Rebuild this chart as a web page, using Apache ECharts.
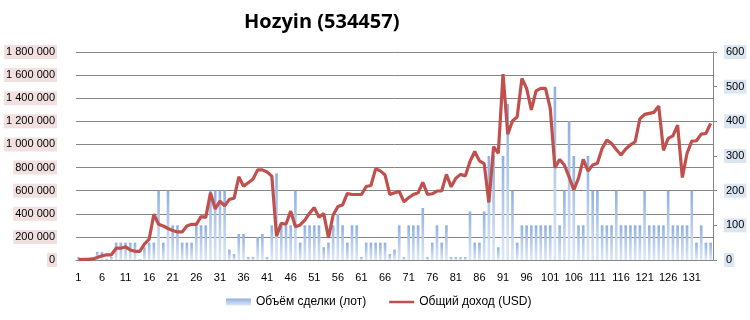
<!DOCTYPE html>
<html>
<head>
<meta charset="utf-8">
<script src="https://cdn.jsdelivr.net/npm/echarts@6/dist/echarts.min.js"></script>
<style>
html,body{margin:0;padding:0;background:#fff;}
#c{width:750px;height:320px;}
</style>
</head>
<body>
<div id="c"></div>
<script>
var titleText = 'Hozyin (534457)';
var seriesNames = ['Объём сделки (лот)', 'Общий доход (USD)'];
var categories = [1,2,3,4,5,6,7,8,9,10,11,12,13,14,15,16,17,18,19,20,21,22,23,24,25,26,27,28,29,30,31,32,33,34,35,36,37,38,39,40,41,42,43,44,45,46,47,48,49,50,51,52,53,54,55,56,57,58,59,60,61,62,63,64,65,66,67,68,69,70,71,72,73,74,75,76,77,78,79,80,81,82,83,84,85,86,87,88,89,90,91,92,93,94,95,96,97,98,99,100,101,102,103,104,105,106,107,108,109,110,111,112,113,114,115,116,117,118,119,120,121,122,123,124,125,126,127,128,129,130,131,132,133,134,135].map(String);
var volume = [25000,5000,5000,5000,70000,70000,10000,25000,150000,150000,
150000,150000,150000,5000,110000,150000,150000,600000,150000,600000,
300000,300000,150000,150000,150000,300000,300000,300000,600000,600000,
600000,600000,90000,50000,225000,225000,25000,25000,200000,225000,
25000,300000,750000,300000,300000,300000,600000,150000,300000,300000,
300000,300000,110000,150000,300000,400000,300000,150000,300000,300000,
25000,150000,150000,150000,150000,150000,50000,90000,300000,25000,
300000,300000,300000,450000,25000,150000,300000,150000,300000,25000,
25000,25000,25000,420000,150000,150000,420000,900000,900000,110000,
900000,1350000,600000,150000,300000,300000,300000,300000,300000,300000,
300000,1500000,300000,600000,1200000,900000,300000,300000,900000,600000,
600000,300000,300000,300000,600000,300000,300000,300000,300000,300000,
600000,300000,300000,300000,300000,600000,300000,300000,300000,300000,
600000,150000,300000,150000,150000];
var income = [1,2,2,3,7,12,15,15,34,34,
38,29,25,25,46,60,132,103,98,91,
85,81,81,98,103,103,125,123,194,147,
170,156,175,178,240,213,223,233,260,260,
254,242,69,106,103,141,96,101,115,135,
151,123,134,64,130,154,159,192,189,189,
189,212,215,263,257,245,189,194,198,168,
180,189,194,224,189,191,199,199,247,211,
236,247,242,284,313,286,278,166,327,308,
536,363,401,413,524,495,433,488,495,495,
438,266,290,274,240,202,236,290,257,274,
279,322,346,336,319,303,320,332,341,407,
420,423,426,444,316,351,358,389,238,308,
343,344,363,365,394];
var leftMax = 1800000, leftStep = 200000;
var rightMax = 600, rightStep = 100;

function fmtSpace(v){ return String(v).replace(/\B(?=(\d{3})+(?!\d))/g, ' '); }

var chart = echarts.init(document.getElementById('c'), null, {renderer:'canvas'});
var font = 'Liberation Sans';
var lineIcon = 'path://M0,0 L0.01,0 L0.01,0.01 Z M0,2.1 L26,2.1 L26,4.9 L0,4.9 Z M25.99,7 L26,7 L26,6.99 Z';
chart.setOption({
  animation: false,
  textStyle: {fontFamily: font},
  title: {
    text: titleText, left: 239, top: 7,
    textStyle: {fontFamily: 'Open Sans', fontWeight: 'bold', fontSize: 20, color: '#000'}
  },
  legend: {
    bottom: 7, left: 221, itemGap: 23, itemWidth: 25, itemHeight: 7,
    textStyle: {fontFamily: font, fontSize: 12, color: '#000'},
    data: [{name: seriesNames[0], icon: 'rect'}, {name: seriesNames[1], icon: lineIcon}]
  },
  grid: {left: 76, right: 37, top: 52, bottom: 60, containLabel: false},
  xAxis: {
    type: 'category', data: categories, boundaryGap: true,
    axisLine: {show: true, lineStyle: {color: '#868686', width: 1}},
    axisTick: {show: false},
    axisLabel: {interval: 4, fontSize: 11, color: '#000', margin: 12, fontFamily: font}
  },
  yAxis: [{
    type: 'value', min: 0, max: leftMax, interval: leftStep, position: 'left',
    axisLine: {show: false}, axisTick: {show: false},
    splitLine: {show: true, lineStyle: {color: '#868686', width: 1}},
    axisLabel: {
      formatter: fmtSpace, fontSize: 11, color: '#000', margin: 19, fontFamily: font,
      backgroundColor: '#f2e0e0', padding: [2, 2, 1, 2]
    }
  }, {
    type: 'value', min: 0, max: rightMax, interval: rightStep, position: 'right',
    axisLine: {show: true, lineStyle: {color: '#868686', width: 1}},
    axisTick: {show: true, length: 4, lineStyle: {color: '#868686'}},
    splitLine: {show: false},
    axisLabel: {
      fontSize: 11, color: '#000', margin: 11, fontFamily: font,
      backgroundColor: '#dce6f2', padding: [2, 2, 1, 2]
    }
  }],
  series: [{
    name: seriesNames[0], type: 'bar', yAxisIndex: 0, data: volume,
    barWidth: '56%',
    itemStyle: {
      color: new echarts.graphic.LinearGradient(0, 0, 0, 1, [
        {offset: 0, color: '#8fb0e2'}, {offset: 1, color: '#dfe8f6'}
      ])
    }
  }, {
    name: seriesNames[1], type: 'line', yAxisIndex: 1, data: income,
    symbol: 'none', showSymbol: false,
    lineStyle: {color: '#c0504d', width: 3.2},
    itemStyle: {color: '#c0504d'}
  }]
});
</script>
</body>
</html>
